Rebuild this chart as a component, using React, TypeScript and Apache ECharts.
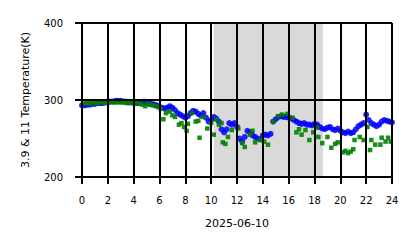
import React, { useEffect, useRef } from "react";
import * as echarts from "echarts";

const xTicks = [0, 2, 4, 6, 8, 10, 12, 14, 16, 18, 20, 22, 24];
const yTicks = [200, 300, 400];
const xAxisName = "2025-06-10";
const yAxisName = "3.9 & 11 Temperature(K)";
const shadeStart = 10.2;
const shadeEnd = 18.65;

const blueStartHour = 0;
const blueStepHour = 0.2;
const blueValues = [
  293, 293, 294, 294, 295, 295, 296, 296, 296, 297,
  297, 298, 298, 299, 299, 299, 298, 298, 297, 297,
  297, 296, 296, 297, 298, 296, 295, 295, 294, 293,
  291, 290, 289, 290, 292, 290, 287, 283, 281, 279,
  277, 279, 283, 286, 285, 282, 280, 283, 277, 272,
  274, 278, 276, 272, 262, 258, 262, 270, 268, 270,
  265, 250, 246, 252, 260, 258, 254, 252, 250, 249,
  254, 255, 254, 256, 272, 275, 278, 279, 278, 278,
  277, 276, 274, 272, 270, 269, 270, 268, 268, 267,
  269, 268, 265, 263, 262, 264, 265, 262, 261, 263,
  260, 258, 257, 259, 257, 258, 262, 266, 268, 270,
  281, 274, 270, 268, 266, 268, 272, 274, 273, 272,
  271,
];

const greenHours = [
  0.1, 0.3, 0.5, 0.7, 0.9, 1.1, 1.3, 1.5, 1.7, 1.9, 2.1, 2.3, 2.5, 2.7, 2.9,
  3.1, 3.3, 3.5, 3.7, 3.9, 4.1, 4.3, 4.5, 4.7, 4.9, 5.1, 5.3, 5.5, 5.7, 5.9,
  6.1, 6.3, 6.5, 6.8, 7.0, 7.2, 7.5, 7.7, 7.9, 8.1, 8.2, 8.5, 8.8, 9.0, 9.1,
  9.4, 9.7, 10.0, 10.2, 10.4, 10.6, 10.8, 10.9, 11.1, 11.3, 11.6, 12.1, 12.4,
  12.6, 13.0, 13.2, 13.4, 13.8, 14.1, 14.4, 14.8, 15.2, 15.5, 15.9, 16.3, 16.6,
  16.8, 17.0, 17.3, 17.6, 17.9, 18.2, 18.3, 18.6, 19.0, 19.3, 19.6, 19.8, 20.2,
  20.4, 20.6, 20.8, 21.0, 21.1, 21.5, 21.8, 22.1, 22.3, 22.4, 22.7, 23.1, 23.2,
  23.5, 23.7, 23.9,
];
const greenValues = [
  295, 296, 296, 296, 297, 296, 297, 297, 297, 296, 297, 298, 297, 297, 297,
  297, 297, 296, 297, 296, 296, 297, 295, 294, 292, 295, 294, 293, 292, 291,
  289, 275, 283, 285, 280, 278, 268, 270, 265, 260, 269, 283, 272, 273, 251,
  278, 263, 270, 255, 275, 268, 270, 245, 243, 252, 261, 263, 244,
  239, 255, 260, 245, 248, 246, 242, 272, 279, 281, 282, 277, 258,
  262, 255, 261, 248, 258, 264, 252, 244, 252, 238, 243, 245, 232,
  234, 231, 233, 236, 248, 252, 248, 265, 235, 248, 242, 242, 251,
  246, 251, 246,
];

export default function App() {
  const ref = useRef<HTMLDivElement>(null);
  useEffect(() => {
    if (!ref.current) return;
    const chart = echarts.init(ref.current, null, { renderer: "svg" });
    const blueData = blueValues.map((v, i) => [blueStartHour + i * blueStepHour, v]);
    const greenData = greenHours.map((h, i) => [h, greenValues[i]]);
    const font = "'DejaVu Sans', sans-serif";
    chart.setOption({
      animation: false,
      backgroundColor: "#ffffff",
      grid: { left: 82, right: 26, top: 23, bottom: 71 },
      xAxis: {
        type: "value",
        min: xTicks[0],
        max: xTicks[xTicks.length - 1],
        interval: 2,
        z: 10,
        name: xAxisName,
        nameLocation: "middle",
        nameGap: 41,
        nameTextStyle: { fontFamily: font, fontSize: 11, color: "#000" },
        axisLine: { show: false },
        axisTick: { show: true, length: 7, lineStyle: { color: "#000", width: 2 } },
        axisLabel: { margin: 18, fontFamily: font, fontSize: 10, color: "#000" },
        splitLine: { show: true, lineStyle: { color: "#000", width: 2 } },
      },
      yAxis: {
        type: "value",
        min: yTicks[0],
        max: yTicks[yTicks.length - 1],
        interval: 100,
        z: 10,
        name: yAxisName,
        nameLocation: "middle",
        nameGap: 51,
        nameTextStyle: { fontFamily: font, fontSize: 11, color: "#000" },
        axisLine: { show: false },
        axisTick: { show: true, length: 7, lineStyle: { color: "#000", width: 2 } },
        axisLabel: { margin: 19, fontFamily: font, fontSize: 10, color: "#000" },
        splitLine: { show: true, lineStyle: { color: "#000", width: 2 } },
      },
      series: [
        {
          type: "scatter",
          data: [],
          silent: true,
          markArea: {
            silent: true,
            itemStyle: { color: "#d9d9d9" },
            data: [[{ xAxis: shadeStart }, { xAxis: shadeEnd }]],
          },
        },
        {
          type: "scatter",
          data: blueData,
          symbol: "circle",
          symbolSize: 6,
          itemStyle: { color: "#0000ff", opacity: 0.85 },
        },
        {
          type: "scatter",
          data: greenData,
          symbol: "rect",
          symbolSize: 4.5,
          itemStyle: { color: "#008000", opacity: 0.9 },
        },
      ],
    });
    return () => chart.dispose();
  }, []);
  return (
    <div
      ref={ref}
      style={{ position: "absolute", left: 0, top: 0, width: 418, height: 248 }}
    />
  );
}
